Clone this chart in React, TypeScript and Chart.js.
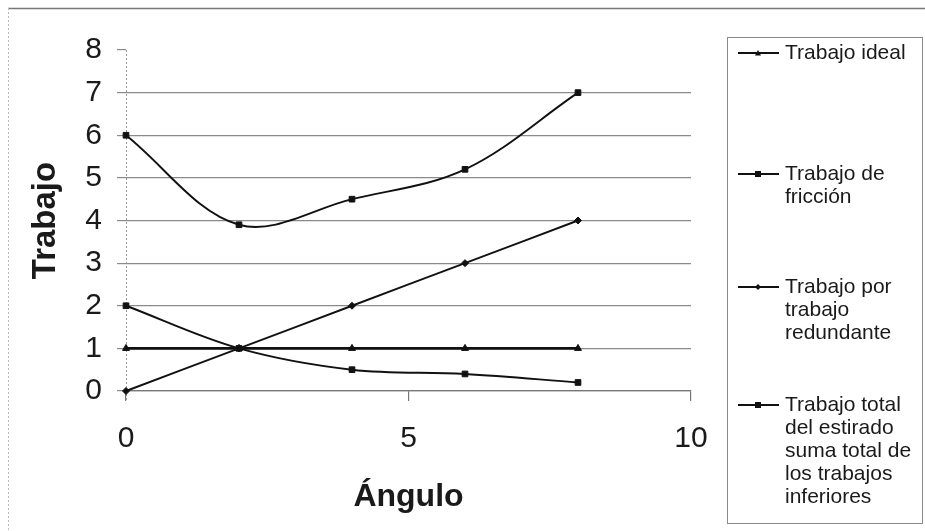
import React, { useEffect, useRef } from "react";
import { Chart, registerables } from "chart.js";

Chart.register(...registerables);

// ---- data ----
const angles = [0, 2, 4, 6, 8];
const trabajoIdeal = [1, 1, 1, 1, 1];
const trabajoFriccion = [2, 1, 0.5, 0.4, 0.2];
const trabajoRedundante = [0, 1, 2, 3, 4];
const trabajoTotal = [6, 3.9, 4.5, 5.2, 7];

const seriesNames = [
  "Trabajo ideal",
  "Trabajo de fricción",
  "Trabajo por trabajo redundante",
  "Trabajo total del estirado suma total de los trabajos inferiores",
];
const legendLines = [
  ["Trabajo ideal"],
  ["Trabajo de", "fricción"],
  ["Trabajo por", "trabajo", "redundante"],
  ["Trabajo total", "del estirado", "suma total de", "los trabajos", "inferiores"],
];
const pointStyles = ["triangle", "rect", "rectRot", "rect"];

const xMin = 0;
const xMax = 10;
const xStep = 5;
const yMin = 0;
const yMax = 8;
const yStep = 1;

const xTitle = "Ángulo";
const yTitle = "Trabajo";

const FONT = '"Liberation Sans", Arial, sans-serif';

function toPoints(ys: number[]) {
  return angles.map((x, i) => ({ x, y: ys[i] }));
}

function drawMarker(ctx: CanvasRenderingContext2D, style: string, x: number, y: number, r: number) {
  ctx.beginPath();
  if (style === "triangle") {
    ctx.moveTo(x, y - r);
    ctx.lineTo(x + r, y + r * 0.8);
    ctx.lineTo(x - r, y + r * 0.8);
    ctx.closePath();
  } else if (style === "rect") {
    ctx.rect(x - r, y - r, 2 * r, 2 * r);
  } else {
    ctx.moveTo(x, y - r);
    ctx.lineTo(x + r, y);
    ctx.lineTo(x, y + r);
    ctx.lineTo(x - r, y);
    ctx.closePath();
  }
  ctx.fill();
}

const framePlugin = {
  id: "frame",
  beforeDraw(chart: any) {
    const ctx = chart.ctx as CanvasRenderingContext2D;
    ctx.save();
    ctx.fillStyle = "#ffffff";
    ctx.fillRect(0, 0, chart.width, chart.height);
    ctx.strokeStyle = "#777777";
    ctx.lineWidth = 1.5;
    ctx.beginPath();
    ctx.moveTo(8, 8.5);
    ctx.lineTo(chart.width, 8.5);
    ctx.stroke();
    ctx.strokeStyle = "#bbbbbb";
    ctx.lineWidth = 1;
    ctx.setLineDash([2, 2]);
    ctx.beginPath();
    ctx.moveTo(8.5, 8);
    ctx.lineTo(8.5, chart.height);
    ctx.stroke();
    ctx.restore();
  },
  beforeDatasetsDraw(chart: any) {
    // dotted vertical value axis line
    const ctx = chart.ctx as CanvasRenderingContext2D;
    const a = chart.chartArea;
    ctx.save();
    ctx.strokeStyle = "#999999";
    ctx.lineWidth = 1;
    ctx.setLineDash([2, 2]);
    ctx.beginPath();
    ctx.moveTo(Math.round(a.left) + 0.5, a.top);
    ctx.lineTo(Math.round(a.left) + 0.5, a.bottom + 10);
    ctx.stroke();
    ctx.restore();
  },
};

const legendPlugin = {
  id: "sideLegend",
  afterDraw(chart: any) {
    const ctx = chart.ctx as CanvasRenderingContext2D;
    ctx.save();
    ctx.strokeStyle = "#8a8a8a";
    ctx.lineWidth = 1;
    ctx.setLineDash([]);
    ctx.strokeRect(727.5, 37.5, 195, 486);
    const entryTops = [53, 174, 287, 405];
    const lineGap = 23;
    chart.data.datasets.forEach((ds: any, i: number) => {
      const y0 = entryTops[i];
      ctx.strokeStyle = "#111111";
      ctx.fillStyle = "#111111";
      ctx.lineWidth = 1.8;
      ctx.beginPath();
      ctx.moveTo(738, y0);
      ctx.lineTo(779, y0);
      ctx.stroke();
      drawMarker(ctx, pointStyles[i], 758, y0, 3);
      ctx.font = `21px ${FONT}`;
      ctx.textBaseline = "middle";
      ctx.textAlign = "left";
      ctx.fillStyle = "#1a1a1a";
      legendLines[i].forEach((t, k) => {
        ctx.fillText(t, 785, y0 + k * lineGap);
      });
    });
    ctx.restore();
  },
};

export default function App() {
  const canvasRef = useRef<HTMLCanvasElement | null>(null);

  useEffect(() => {
    const canvas = canvasRef.current;
    if (!canvas) return;
    const seriesValues = [trabajoIdeal, trabajoFriccion, trabajoRedundante, trabajoTotal];
    const chart = new Chart(canvas, {
      type: "scatter",
      data: {
        datasets: seriesValues.map((vals, i) => ({
          label: seriesNames[i],
          data: toPoints(vals),
          showLine: true,
          borderColor: "#111111",
          backgroundColor: "#111111",
          borderWidth: i === 0 ? 2.6 : 1.9,
          tension: 0.35,
          pointStyle: pointStyles[i] as any,
          pointRadius: i === 2 ? 3.5 : 4,
          pointBackgroundColor: "#111111",
          pointBorderColor: "#111111",
          pointBorderWidth: 1,
          clip: false as any,
        })),
      },
      options: {
        animation: false,
        responsive: false,
        devicePixelRatio: 1,
        layout: { padding: { left: 0, top: 50, right: 234, bottom: 0 } },
        plugins: {
          legend: { display: false },
          tooltip: { enabled: false },
        },
        scales: {
          x: {
            type: "linear",
            min: xMin,
            max: xMax,
            afterFit: (scale: any) => {
              scale.height = 140;
            },
            ticks: {
              stepSize: xStep,
              padding: 20,
              color: "#1a1a1a",
              font: { family: FONT, size: 30 },
            },
            grid: {
              drawOnChartArea: false,
              drawTicks: true,
              tickLength: 10,
              color: "#777777",
              lineWidth: 1.2,
            },
            border: { color: "#777777", width: 1.2 },
            title: {
              display: true,
              text: xTitle,
              color: "#1a1a1a",
              font: { family: FONT, size: 32, weight: "bold" },
              padding: { top: 0, bottom: 15 },
            },
          },
          y: {
            type: "linear",
            min: yMin,
            max: yMax,
            afterFit: (scale: any) => {
              scale.width = 126;
            },
            ticks: {
              stepSize: yStep,
              padding: 15,
              color: "#1a1a1a",
              font: { family: FONT, size: 30 },
            },
            grid: {
              drawTicks: true,
              tickLength: 9,
              color: (c: any) => (c.tick && c.tick.value === yMax ? "rgba(0,0,0,0)" : "#8a8a8a"),
              tickColor: "#8a8a8a",
              lineWidth: 1.2,
            },
            border: { display: false },
            title: {
              display: true,
              text: yTitle,
              color: "#1a1a1a",
              font: { family: FONT, size: 33, weight: "bold" },
              padding: { top: 26, bottom: 0 },
            },
          },
        },
      },
      plugins: [framePlugin, legendPlugin],
    });
    return () => chart.destroy();
  }, []);

  return (
    <div style={{ position: "fixed", left: 0, top: 0, width: 925, height: 531, background: "#fff" }}>
      <canvas ref={canvasRef} width={925} height={531} style={{ display: "block", width: 925, height: 531 }} />
    </div>
  );
}
